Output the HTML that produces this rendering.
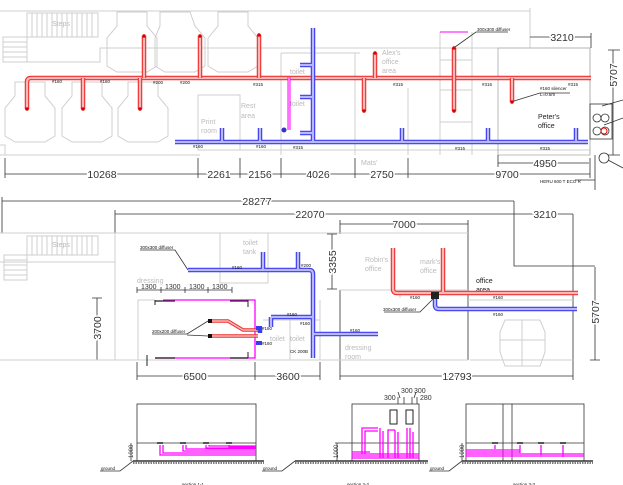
<!DOCTYPE html>
<html><head><meta charset="utf-8"><style>
html,body{margin:0;padding:0;background:#fff;}
svg{display:block;}
text{font-family:"Liberation Sans",sans-serif;}
.g{fill:none;stroke:#cfcfcf;stroke-width:1}
.k{fill:none;stroke:#333;stroke-width:0.8}
.rd{stroke:#ee3030;stroke-width:4.5;fill:none}
.ri{stroke:#f8b8b8;stroke-width:2.2;fill:none}
.bd{stroke:#3a3af0;stroke-width:4.5;fill:none}
.bi{stroke:#b8b8f8;stroke-width:2.2;fill:none}
.mg{stroke:#ff00ff;stroke-width:1.3;fill:none}
.dim{font-size:11px;fill:#333}
.sm{font-size:4.5px;fill:#111}
.gt{font-size:7px;fill:#bbb}
.bt{font-size:7px;fill:#222}
</style></head><body>
<svg width="623" height="485" viewBox="0 0 623 485" xmlns="http://www.w3.org/2000/svg">
<rect width="623" height="485" fill="#fff"/>
<!-- ============ TOP PLAN ============ -->
<path class="g" d="M0 11H530M530 8V48M0 155H200M0 145H5V155M200 150H590M590 48V155M198 48H590"/>
<!-- steps -->
<path class="g" d="M27 13H98V37H27Z M3 37H27V62H3Z M27 37V62H100V48H200"/>
<g class="g"><path d="M32 13V37M37 13V37M42 13V37M47 13V37M52 13V37M57 13V37M62 13V37M67 13V37M72 13V37M77 13V37M82 13V37M87 13V37M92 13V37"/><path d="M3 42H27M3 47H27M3 52H27M3 57H27"/></g>
<text class="gt" x="52" y="26">Steps</text>
<!-- workstations -->
<g class="g">
<path d="M117 12h30l0 14l10 12v28l-10 6h-30l-10-6v-28l10-12z"/>
<path d="M160 12h30l5 14l10 12v28l-10 6h-30l-10-6v-28l5-12z"/>
<path d="M218 12h30l0 14l10 12v28l-10 6h-30l-10-6v-28l10-12z"/>
<path d="M15 82h30l0 14l10 12v28l-10 6h-30l-10-6v-28l10-12z"/>
<path d="M72 82h30l0 14l10 12v28l-10 6h-30l-10-6v-28l10-12z"/>
<path d="M128 82h30l0 14l10 12v28l-10 6h-30l-10-6v-28l10-12z"/>
<path d="M198 95h42v55h-42z M240 95V150M281 53V155M281 53H360M355 53V155M408 88V155M440 32V155M472 32V155M440 60H472M440 90H472M440 122H472"/>
</g>
<text class="gt" x="201" y="124">Print</text><text class="gt" x="201" y="133">room</text>
<text class="gt" x="241" y="108">Rest</text><text class="gt" x="241" y="118">area</text>
<text class="gt" x="290" y="74">toilet</text><text class="gt" x="290" y="106">toilet</text>
<text class="gt" x="382" y="55">Alex's</text><text class="gt" x="382" y="64">office</text><text class="gt" x="382" y="73">area</text>
<text class="gt" x="361" y="165">Mats'</text>
<!-- Peter's office -->
<path class="k" d="M498 48H590V155H498Z" style="stroke:#aaa"/>
<text class="bt" x="538" y="119">Peter's</text><text class="bt" x="538" y="128">office</text>
<!-- red main -->
<path class="rd" d="M27 109V82Q27 78 31 78H591"/>
<path class="ri" d="M27 109V82Q27 78 31 78H591"/>
<g>
<path class="rd" d="M83 78V109M140 78V109M144 78V36M200 78V36M259 78V35M375 78V53M364 78V111M454 78V48M454 78V111M512 78V102"/>
<path class="ri" d="M83 78V109M140 78V109M144 78V36M200 78V36M259 78V35M375 78V53M364 78V111M454 78V48M454 78V111M512 78V102"/>
</g>
<g fill="#d00"><circle cx="27" cy="109" r="1.8"/><circle cx="83" cy="109" r="1.8"/><circle cx="140" cy="109" r="1.8"/><circle cx="144" cy="36" r="1.8"/><circle cx="200" cy="36" r="1.8"/><circle cx="259" cy="35" r="1.8"/><circle cx="375" cy="53" r="1.8"/><circle cx="364" cy="111" r="1.8"/><circle cx="454" cy="48" r="1.8"/><circle cx="454" cy="111" r="1.8"/><circle cx="512" cy="102" r="1.8"/></g>
<path d="M440 32H468" stroke="#f0f" stroke-width="1"/>
<path class="k" d="M455 47L476 32H508M514 101L540 93H570"/>
<text class="sm" x="477" y="31">300x300 diffuser</text>
<text class="sm" x="540" y="90">#160 silencer</text><text class="sm" x="540" y="96">L=0.6m</text>
<!-- blue -->
<path class="bd" d="M175 142H588M313 28V142M300 65H313M300 97H313M300 133H313M222 128V142M260 128V142M402 128V142M488 128V142M576 128V142"/>
<path class="bi" d="M175 142H588M313 28V142M300 65H313M300 97H313M300 133H313M222 128V142M260 128V142M402 128V142M488 128V142M576 128V142"/>
<path d="M289 77V130" stroke="#f0f" stroke-width="3"/><path d="M289 77V130" stroke="#fbf" stroke-width="1.2"/>
<circle cx="284" cy="130" r="2.5" fill="#33c"/>
<!-- small labels -->
<g class="sm"><text x="52" y="83">#160</text><text x="100" y="83">#160</text><text x="153" y="84">#200</text><text x="180" y="84">#200</text><text x="253" y="86">#315</text><text x="393" y="86">#315</text><text x="482" y="86">#315</text><text x="568" y="86">#315</text>
<text x="193" y="148">#160</text><text x="256" y="148">#160</text><text x="293" y="149">#315</text><text x="455" y="150">#315</text><text x="540" y="150">#315</text></g>
<!-- equipment -->
<g class="k"><rect x="590" y="104" width="22" height="35"/><circle cx="597" cy="118" r="4"/><circle cx="605" cy="118" r="4"/><circle cx="597" cy="131" r="4"/><circle cx="605" cy="131" r="4"/><circle cx="604" cy="158" r="5"/><path d="M602 106L623 100M604 125L623 118M608 160L623 168M595 155V190M575 180H595"/></g>
<circle cx="604" cy="131" r="3" fill="none" stroke="#e00"/>
<text class="sm" x="540" y="183">HERU 600 T ECO R</text>
<!-- dims top -->
<g class="k"><path d="M5 158V178M198 158V178M240 158V178M281 158V178M355 158V178M408 158V178M590 158V178M5 174H590M498 155V167M498 163H589M530 37H591M591 33V48M613 50V155M608 50H620M608 155H620"/></g>
<g class="dim" text-anchor="middle" style="font-size:10.5px"><text x="102" y="178" fill="#333" style="paint-order:stroke;stroke:#fff;stroke-width:3px">10268</text><text x="219" y="178" style="paint-order:stroke;stroke:#fff;stroke-width:3px">2261</text><text x="260" y="178" style="paint-order:stroke;stroke:#fff;stroke-width:3px">2156</text><text x="318" y="178" style="paint-order:stroke;stroke:#fff;stroke-width:3px">4026</text><text x="382" y="178" style="paint-order:stroke;stroke:#fff;stroke-width:3px">2750</text><text x="507" y="178" style="paint-order:stroke;stroke:#fff;stroke-width:3px">9700</text><text x="545" y="167" style="paint-order:stroke;stroke:#fff;stroke-width:3px">4950</text><text x="562" y="41" style="paint-order:stroke;stroke:#fff;stroke-width:3px">3210</text>
<text x="0" y="0" transform="translate(617,75) rotate(-90)" style="paint-order:stroke;stroke:#fff;stroke-width:3px">5707</text></g>

<!-- ============ MIDDLE PLAN ============ -->
<g class="k"><path d="M2 197V233M2 201H514M115 210V233M115 214H573M514 201V266H595M516 214H573M340 224H468M340 220V234M468 220V234M332 234V289M327 234H337M327 289H337M97 298V360M92 298H102M92 360H102M595 267V360M590 360H600M137 362V380M255 362V380M320 362V380M340 290V380M573 214V380M137 376H320M340 376H573M468 234V360"/></g>
<g class="g"><path d="M0 233H468M0 360H468M0 262H115M115 233V360M27 236H98V255H27Z M4 255H27V280H4Z M220 233V283H268V233M268 233V283M138 300V360M155 300H138M255 300V360M320 300V360M263 320H320M290 320V360M470 360H573M340 290H468M400 290V298M468 300H573"/>
<path d="M505 320h35l5 12v20l-5 14h-35l-5-14v-20z M522 320V366M500 340H545"/></g>
<g class="g"><path d="M32 236V255M37 236V255M42 236V255M47 236V255M52 236V255M57 236V255M62 236V255M67 236V255M72 236V255M77 236V255M82 236V255M87 236V255M92 236V255M4 260H27M4 265H27M4 270H27M4 275H27"/></g>
<text class="gt" x="52" y="247">Steps</text>
<text class="gt" x="243" y="245">toilet</text><text class="gt" x="243" y="254">tank</text>
<text class="gt" x="137" y="283">dressing</text>
<text class="gt" x="365" y="262">Robin's</text><text class="gt" x="365" y="271">office</text>
<text class="gt" x="420" y="264">mark's</text><text class="gt" x="420" y="273">office</text>
<text class="gt" x="345" y="350">dressing</text><text class="gt" x="345" y="359">room</text>
<text class="gt" x="270" y="341">toilet</text><text class="gt" x="290" y="341">toilet</text>
<text class="bt" x="476" y="283">office</text><text class="bt" x="476" y="292">area</text>
<!-- magenta -->
<path class="mg" d="M163 300H255V358H155" /><path d="M155 301H175M230 301H248M155 358H175M230 358H248" stroke="#222" stroke-width="1.2"/>
<path d="M155 300V305M248 300V307M248 352V358M147 355V366" stroke="#222" stroke-width="1"/>
<!-- 1300 dims -->
<g class="k"><path d="M137 290H232M137 287V293M161 287V293M185 287V293M208 287V293M232 287V293"/></g>
<g style="font-size:7px;fill:#333"><text x="141" y="289">1300</text><text x="165" y="289">1300</text><text x="189" y="289">1300</text><text x="212" y="289">1300</text></g>
<!-- red middle ducts -->
<path class="rd" d="M210 321H228L243 330H258M210 336H258" style="stroke-width:3.5"/>
<path class="ri" d="M210 321H228L243 330H258M210 336H258" style="stroke-width:1.5"/>
<rect x="208" y="319" width="4" height="4" fill="#111"/><rect x="208" y="334" width="4" height="4" fill="#111"/>
<path class="k" d="M208 321L187 334H152M208 336L187 335"/>
<text class="sm" x="152" y="333">200x200 diffuser</text>
<!-- blue middle -->
<path class="bd" d="M188 270H309Q313 270 313 274V358M271 317H313M313 334H378M263 252V270M298 252V270M271 317V327M260 327V333"/>
<path class="bi" d="M188 270H309Q313 270 313 274V358M271 317H313M313 334H378M263 252V270M298 252V270M271 317V327"/>
<path class="bd" d="M256 328H262M256 343H262" style="stroke-width:4"/>
<path class="k" d="M188 270L175 250H140"/><text class="sm" x="140" y="249">300x300 diffuser</text>
<g class="sm"><text x="232" y="269">#160</text><text x="301" y="267">#200</text><text x="287" y="316">#160</text><text x="300" y="325">#160</text><text x="350" y="332">#160</text><text x="290" y="353">CK 200B</text><text x="262" y="330">#160</text><text x="262" y="345">#160</text></g>
<!-- right red/blue -->
<path class="rd" d="M393 248V289Q393 293 397 293H578M443 248V293"/>
<path class="ri" d="M393 248V289Q393 293 397 293H578M443 248V293"/>
<path class="bd" d="M435 296V305Q435 309 439 309H577"/>
<path class="bi" d="M435 296V305Q435 309 439 309H577"/>
<rect x="431" y="292" width="8" height="7" fill="#222"/>
<path class="k" d="M433 299L420 312H384"/><text class="sm" x="383" y="311">300x300 diffuser</text>
<g class="sm"><text x="410" y="299">#160</text><text x="493" y="299">#160</text><text x="493" y="316">#160</text></g>
<!-- dim texts middle -->
<g text-anchor="middle" style="font-size:10.5px;fill:#333;paint-order:stroke;stroke:#fff;stroke-width:3px">
<text x="257" y="205">28277</text><text x="310" y="218">22070</text><text x="545" y="218">3210</text><text x="404" y="228">7000</text><text x="195" y="380">6500</text><text x="288" y="380">3600</text><text x="457" y="380">12793</text>
<text transform="translate(336,262) rotate(-90)">3355</text><text transform="translate(101,328) rotate(-90)">3700</text><text transform="translate(599,312) rotate(-90)">5707</text></g>

<!-- ============ SECTIONS ============ -->
<g class="k">
<rect x="137" y="404" width="119" height="57"/><path d="M137 443H256"/>
<rect x="352" y="404" width="67" height="57"/><path d="M352 443H419M335 443H352"/>
<rect x="466" y="404" width="118" height="57"/><path d="M466 443H584M503 404V461M512 404V461"/>
<path d="M133 461H264M295 461H428M462 461H593" stroke-width="1.5"/>
<path d="M133 461L120 471H100M295 461L282 471H262M462 461L449 471H429"/>
<path d="M131 443V461M337 443V461M462 443V461"/>
<path d="M398 404V397M404 404V397M412 404V397M417 404V397M400 398L398 392M414 398L416 392"/>
</g>
<path d="M133 463H264M295 463H428M462 463H593" stroke="#555" stroke-width="1.5" stroke-dasharray="1.5 1"/>
<g style="font-size:7px;fill:#333"><text x="401" y="393">300</text><text x="384" y="400">300</text><text x="414" y="393">300</text><text x="420" y="400">280</text></g>
<g style="font-size:4.5px;fill:#111"><text x="101" y="470">ground</text><text x="263" y="470">ground</text><text x="430" y="470">ground</text>
<text x="182" y="486">section 1-1</text><text x="347" y="486">section 2-2</text><text x="513" y="486">section 3-3</text></g>
<g style="font-size:6px;fill:#333"><text transform="translate(133,458) rotate(-90)">1000</text><text transform="translate(338,458) rotate(-90)">1000</text><text transform="translate(464,458) rotate(-90)">1000</text></g>
<!-- magenta pipes section 1 -->
<g class="mg" stroke-width="1">
<path d="M160 445V455H256M163 445V453H256M183 445V451H256M186 445V449H256M206 445V448H256M209 445V446H256M229 445V447H256"/>
</g>
<g class="mg" stroke-width="1">
<path d="M352 458H419M352 456H419M352 454H419M362 454V428H378M365 454V431H378M380 458V428M383 458V431M388 458V430H395M395 458V430M398 458V432M407 458V428M410 458V428M413 458V432M352 452H370"/>
</g>
<rect x="390" y="410" width="7" height="14" fill="none" stroke="#222"/><rect x="406" y="410" width="7" height="14" fill="none" stroke="#222"/>
<g class="mg" stroke-width="1">
<path d="M466 450H520M466 452H520M466 454H584M466 456H584M495 445V449M520 445V453M541 445V455M563 445V457"/>
</g>
<g fill="#555"><rect x="157" y="442" width="6" height="2"/><rect x="180" y="442" width="6" height="2"/><rect x="203" y="442" width="6" height="2"/><rect x="226" y="442" width="6" height="2"/><rect x="492" y="442" width="6" height="2"/><rect x="517" y="442" width="6" height="2"/><rect x="538" y="442" width="6" height="2"/><rect x="560" y="442" width="6" height="2"/></g>
</svg>
</body></html>
